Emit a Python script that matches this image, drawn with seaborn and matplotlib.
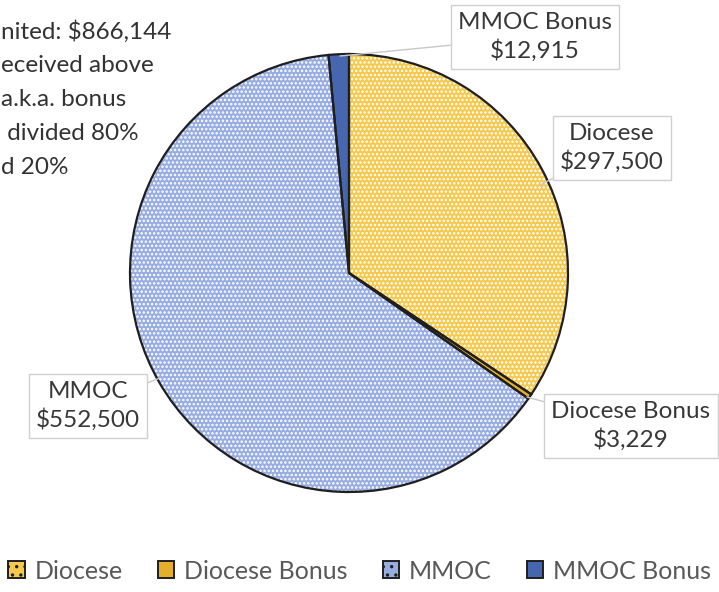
import matplotlib.pyplot as plt
import seaborn as sns

W, H = 719, 592

labels = ['Diocese', 'Diocese Bonus', 'MMOC', 'MMOC Bonus']
amounts = [297500, 3229, 552500, 12915]
value_text = ['$297,500', '$3,229', '$552,500', '$12,915']
base_colors = ['#F4C94E', '#E5AE2C', '#97ACE0', '#4766B0']
hatches = ['....', None, '....', None]
note_lines = ['nited: $866,144', 'eceived above', 'a.k.a. bonus', ' divided 80%', 'd 20%']

sns.set_theme(style='white')
plt.rcParams['font.family'] = ['Lato', 'DejaVu Sans']
plt.rcParams['hatch.linewidth'] = 1.2

fig = plt.figure(figsize=(W / 100, H / 100), dpi=100)
ax = fig.add_axes([0, 0, 1, 1])

center = (349, H - 273)
radius = 219

# base fill
ax.pie(amounts, colors=base_colors, startangle=90, counterclock=False,
       center=center, radius=radius, frame=True,
       wedgeprops=dict(linewidth=0))
# white dotted texture
tex, _ = ax.pie(amounts, colors=['none'] * 4, startangle=90, counterclock=False,
                center=center, radius=radius, frame=True,
                wedgeprops=dict(linewidth=0, edgecolor='white'))
for w, h in zip(tex, hatches):
    w.set_facecolor('none')
    if h:
        w.set_hatch(h)
    else:
        w.set_edgecolor('none')
# outlines
ax.pie(amounts, colors=['none'] * 4, startangle=90, counterclock=False,
       center=center, radius=radius, frame=True,
       wedgeprops=dict(linewidth=1.6, edgecolor='#1f1f1f', fill=False))
ax.set_xlim(0, W)
ax.set_ylim(0, H)
ax.set_aspect('equal')
ax.axis('off')

# data labels (pixel positions, y from top)
label_pos = [(612, 148), (631, 426), (88, 406), (535, 37)]
anchor_pos = [(540, 185), (527, 397), (160, 378), (340, 56)]
for i in range(4):
    tx, ty = label_pos[i]
    px, py = anchor_pos[i]
    ax.annotate(labels[i] + '\n' + value_text[i], xy=(px, H - py), xytext=(tx, H - ty),
                ha='center', va='center', fontsize=17.5, color='#383838',
                linespacing=1.3,
                bbox=dict(boxstyle='square,pad=0.3', fc='white', ec='#d0d0d0', lw=1),
                arrowprops=dict(arrowstyle='-', color='#c8c8c8', lw=1,
                                shrinkA=0, shrinkB=0))

# note at top-left (only the part visible in the original)
for k, line in enumerate(note_lines):
    ax.text(1, H - 32 - k * 34, line, ha='left', va='center', fontsize=17.5,
            color='#333333')

handles = [plt.Rectangle((0, 0), 1, 1, fc=c, ec='#1f1f1f', lw=1.4) for c in base_colors]
for hnd, h in zip(handles, hatches):
    if h:
        hnd.set_hatch('..')
fig.legend(handles, labels, loc='lower center', bbox_to_anchor=(0.5, -0.022), ncol=4,
           frameon=False, fontsize=18, handlelength=0.65, handleheight=0.65,
           handletextpad=0.4, columnspacing=1.4, labelcolor='#595959')

fig.savefig('out.png', dpi=100)
